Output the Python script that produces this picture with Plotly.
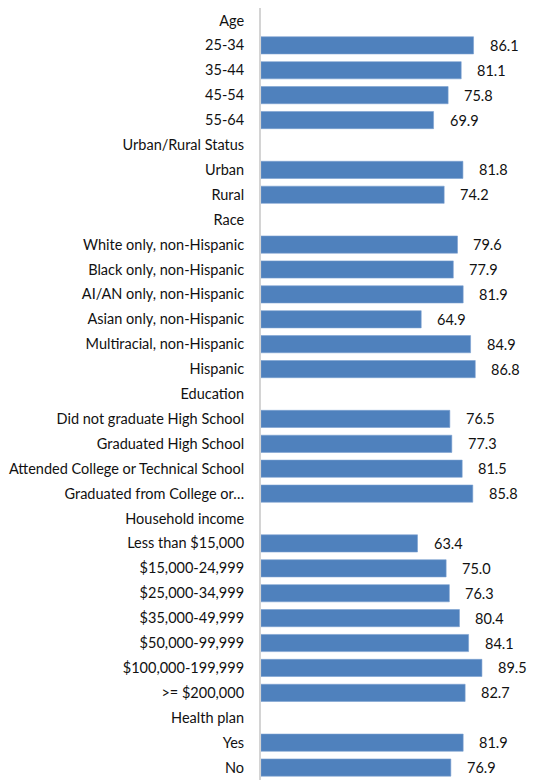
import plotly.graph_objects as go

# Row labels (top to bottom); header rows have no value
labels = [
    "Age", "25-34", "35-44", "45-54", "55-64",
    "Urban/Rural Status", "Urban", "Rural",
    "Race", "White only, non-Hispanic", "Black only, non-Hispanic",
    "AI/AN only, non-Hispanic", "Asian only, non-Hispanic",
    "Multiracial, non-Hispanic", "Hispanic",
    "Education", "Did not graduate High School", "Graduated High School",
    "Attended College or Technical School", "Graduated from College or…",
    "Household income", "Less than $15,000", "$15,000-24,999", "$25,000-34,999",
    "$35,000-49,999", "$50,000-99,999", "$100,000-199,999", ">= $200,000",
    "Health plan", "Yes", "No",
]
values = [
    None, 86.1, 81.1, 75.8, 69.9,
    None, 81.8, 74.2,
    None, 79.6, 77.9, 81.9, 64.9, 84.9, 86.8,
    None, 76.5, 77.3, 81.5, 85.8,
    None, 63.4, 75.0, 76.3, 80.4, 84.1, 89.5, 82.7,
    None, 81.9, 76.9,
]

FONT = "Lato"
FS = 14.5
n = len(labels)

fig = go.Figure()
fig.add_trace(go.Bar(
    x=values, y=labels, orientation="h",
    marker=dict(color="#4f81bd", line=dict(color="#7a9fd0", width=0.6)),
    hoverinfo="x+y",
))

for lab, v in zip(labels, values):
    if v is None:
        continue
    fig.add_annotation(
        x=v, y=lab, text=f"{v:.1f}", showarrow=False,
        xanchor="left", xshift=14,
        font=dict(family=FONT, size=FS, color="#111111"),
    )

fig.update_layout(
    width=535, height=780,
    margin=dict(l=261, r=0, t=8, b=0),
    paper_bgcolor="white", plot_bgcolor="white",
    showlegend=False, bargap=0.31,
    font=dict(family=FONT, size=FS, color="#111111"),
    xaxis=dict(range=[0, 111], visible=False, showgrid=False, zeroline=False),
    yaxis=dict(
        categoryorder="array", categoryarray=labels,
        range=[n - 0.5, -0.5],
        showline=True, linecolor="#d4d4d4", linewidth=2,
        showgrid=False, zeroline=False, ticks="",
        ticklabelstandoff=12,
        tickfont=dict(family=FONT, size=FS, color="#111111"),
    ),
)

fig.write_html("out.html")
